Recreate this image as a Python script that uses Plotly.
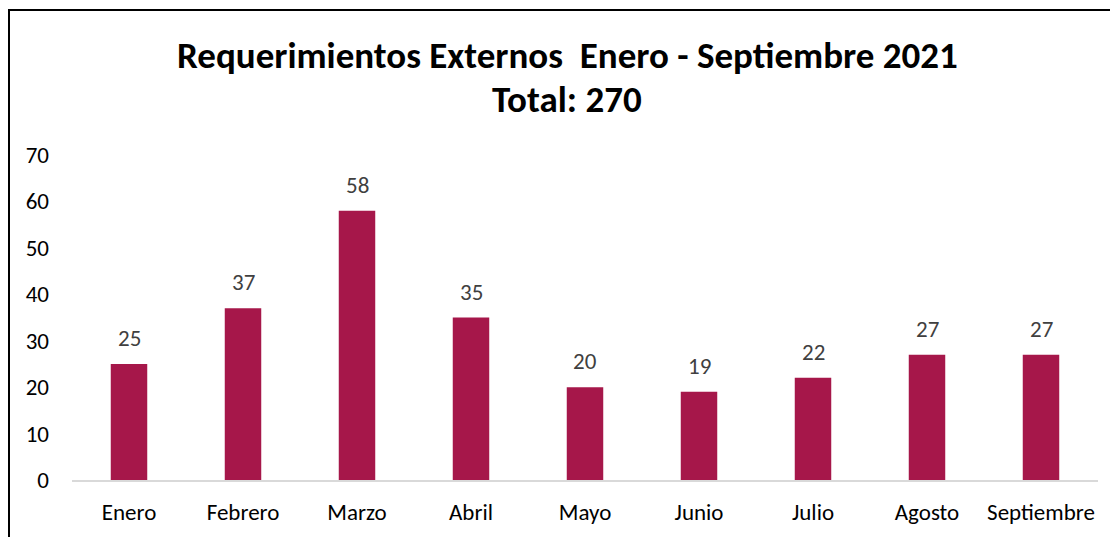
import plotly.graph_objects as go

months = ["Enero", "Febrero", "Marzo", "Abril", "Mayo", "Junio", "Julio", "Agosto", "Septiembre"]
values = [25, 37, 58, 35, 20, 19, 22, 27, 27]
title_line1 = "Requerimientos Externos  Enero - Septiembre 2021"
title_line2 = "Total: 270"

FONT = "Carlito, Lato, sans-serif"
W, H = 1118, 537
OFF = 8  # page body margin offset
L, R, T, B = 72 - OFF, 28, 155 - OFF, 65
pw, ph = W - L - R, H - T - B

def px_x(x):
    return (x - OFF - L) / pw

def px_y(y):
    return (H - B - (y - OFF)) / ph

fig = go.Figure(go.Bar(
    x=months, y=values,
    marker=dict(color="#A6174A", line=dict(width=0)),
))

annotations = [
    dict(x=m, y=v, text=str(v), xref="x", yref="y", showarrow=False,
         xanchor="center", yanchor="bottom", yshift=10,
         font=dict(family=FONT, size=23, color="#404040"))
    for m, v in zip(months, values)
]
annotations += [
    dict(text="<b>" + title_line1 + "</b>", xref="paper", yref="paper",
         x=px_x(567), y=px_y(55), xanchor="center", yanchor="middle",
         showarrow=False, font=dict(family=FONT, size=37, color="#000000")),
    dict(text="<b>" + title_line2 + "</b>", xref="paper", yref="paper",
         x=px_x(567), y=px_y(100), xanchor="center", yanchor="middle",
         showarrow=False, font=dict(family=FONT, size=37, color="#000000")),
]

fig.update_layout(
    width=W, height=H,
    margin=dict(l=L, r=R, t=T, b=B),
    plot_bgcolor="white", paper_bgcolor="white",
    bargap=0.68,
    showlegend=False,
    font=dict(family=FONT, size=23, color="#000000"),
    xaxis=dict(showgrid=False, showline=True, linecolor="#d9d9d9", linewidth=1.5,
               ticks="", tickfont=dict(size=23, color="#000000"), ticklabelstandoff=11),
    yaxis=dict(range=[0, 70], dtick=10, showgrid=False, zeroline=False, showline=False,
               ticks="", tickfont=dict(size=23, color="#000000"), ticklabelstandoff=22),
    annotations=annotations,
    shapes=[
        dict(type="rect", xref="paper", yref="paper",
             x0=px_x(9), x1=px_x(1140), y0=px_y(600), y1=px_y(10),
             line=dict(color="#000000", width=2), fillcolor="rgba(0,0,0,0)", layer="above"),
    ],
)

fig.write_html("out.html")
